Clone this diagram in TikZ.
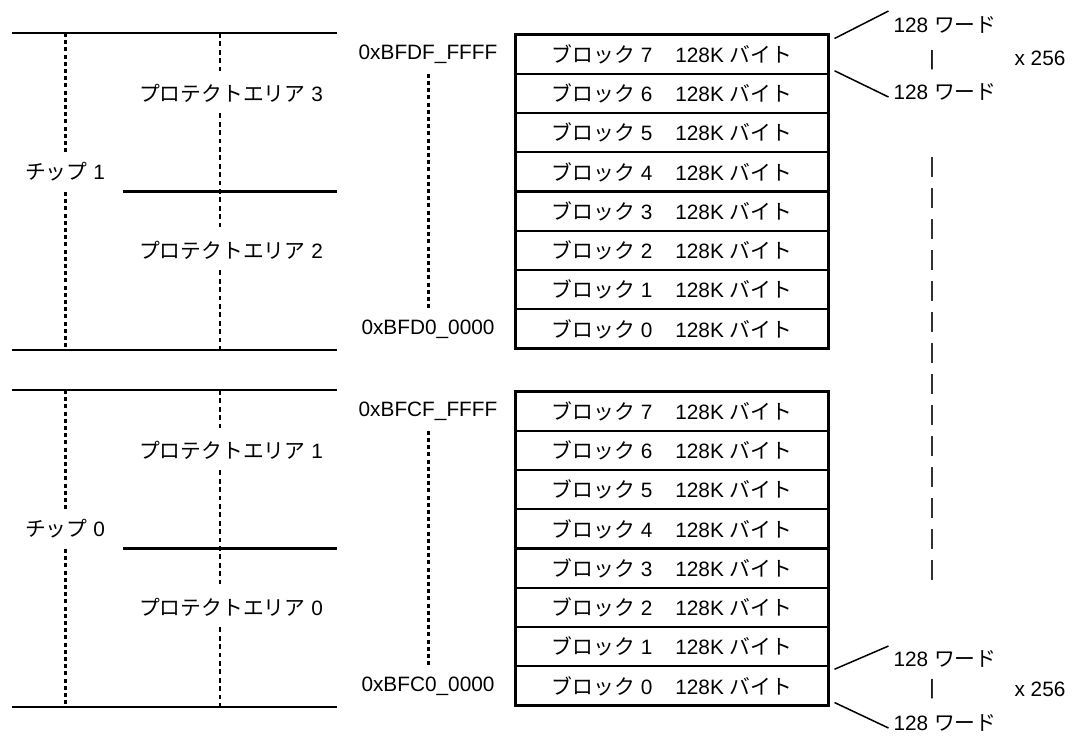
\documentclass[tikz,border=0pt]{standalone}
\usepackage{fontspec}
\setmainfont{Liberation Sans}
\newfontfamily\jp{Noto Sans CJK JP}
\usetikzlibrary{matrix,calc}

\newcommand{\blk}[1]{{\jp ブロック} #1\hspace{1.1em}128K {\jp バイト}}
\newcommand{\wrd}{128 {\jp ワード}}

\tikzset{
	blockcell/.style={draw,line width=1.1pt,minimum width=156.5pt,minimum height=19.625pt,inner sep=0pt,outer sep=0pt},
	rowlabel/.style={minimum height=19.625pt,inner sep=0pt},
	rule/.style={line width=1.2pt},
	thin rule/.style={line width=0.75pt},
	chipdots/.style={line width=1.5pt,dash pattern=on 2pt off 1.6pt},
	areadots/.style={line width=1pt,dash pattern=on 2.4pt off 1.8pt},
	longdash/.style={line width=0.7pt,black!80,dash pattern=on 10pt off 5.5pt}
}

\begin{document}
\begin{tikzpicture}[x=0.5pt,y=-0.5pt,font=\fontsize{10.4pt}{12pt}\selectfont]
\useasboundingbox (0,0) rectangle (1082,736);

\matrix (mU) [matrix of nodes,nodes=blockcell,row sep=-1.1pt,inner sep=0pt,anchor=north west] at (514,33)
{
	\blk{7} \\
	\blk{6} \\
	\blk{5} \\
	\blk{4} \\
	\blk{3} \\
	\blk{2} \\
	\blk{1} \\
	\blk{0} \\
};

\matrix (mL) [matrix of nodes,nodes=blockcell,row sep=-1.1pt,inner sep=0pt,anchor=north west] at ($(mU.south west)+(0,40)$)
{
	\blk{7} \\
	\blk{6} \\
	\blk{5} \\
	\blk{4} \\
	\blk{3} \\
	\blk{2} \\
	\blk{1} \\
	\blk{0} \\
};

\coordinate (xE) at (12,0);
\coordinate (xD) at (123,0);
\coordinate (xR) at (337,0);
\coordinate (xC) at (65,0);
\coordinate (xA) at (220,0);
\coordinate (xM) at (428,0);

% chip 1
\draw[rule] (xE |- mU.north) -- (xR |- mU.north);
\draw[rule] (xD |- mU-5-1.north) -- (xR |- mU-5-1.north);
\draw[rule] (xE |- mU.south) -- (xR |- mU.south);
\node[rowlabel] (chipU) at (xC |- mU-4-1) {{\jp チップ} 1};
\node[rowlabel] (areaU3) at ($(xA |- mU-2-1)+(11,0)$) {{\jp プロテクトエリア} 3};
\node[rowlabel] (areaU2) at ($(xA |- mU-6-1)+(11,0)$) {{\jp プロテクトエリア} 2};
\draw[chipdots] (xC |- mU.north) -- (chipU.north);
\draw[chipdots] (chipU.south) -- (xC |- mU.south);
\draw[areadots] (xA |- mU.north) -- (xA |- areaU3.north);
\draw[areadots] (xA |- areaU3.south) -- (xA |- areaU2.north);
\draw[areadots] (xA |- areaU2.south) -- (xA |- mU.south);
\node (adrU7) at (xM |- mU-1-1) {0xBFDF\_FFFF};
\node (adrU0) at (xM |- mU-8-1) {0xBFD0\_0000};
\draw[chipdots] (xM |- mU-2-1.north) -- (xM |- mU-8-1.north);

% chip 0
\draw[rule] (xE |- mL.north) -- (xR |- mL.north);
\draw[rule] (xD |- mL-5-1.north) -- (xR |- mL-5-1.north);
\draw[rule] (xE |- mL.south) -- (xR |- mL.south);
\node[rowlabel] (chipL) at (xC |- mL-4-1) {{\jp チップ} 0};
\node[rowlabel] (areaL1) at ($(xA |- mL-2-1)+(11,0)$) {{\jp プロテクトエリア} 1};
\node[rowlabel] (areaL0) at ($(xA |- mL-6-1)+(11,0)$) {{\jp プロテクトエリア} 0};
\draw[chipdots] (xC |- mL.north) -- (chipL.north);
\draw[chipdots] (chipL.south) -- (xC |- mL.south);
\draw[areadots] (xA |- mL.north) -- (xA |- areaL1.north);
\draw[areadots] (xA |- areaL1.south) -- (xA |- areaL0.north);
\draw[areadots] (xA |- areaL0.south) -- (xA |- mL.south);
\node (adrL7) at (xM |- mL-1-1) {0xBFCF\_FFFF};
\node (adrL0) at (xM |- mL-8-1) {0xBFC0\_0000};
\draw[chipdots] (xM |- mL-2-1.north) -- (xM |- mL-8-1.north);

% words x 256
\node (wU1) at ($(mU.north east)+(115,-8)$) {\wrd};
\node (barU) at ($(mU.north east)+(102,27)$) {|};
\node (wU2) at ($(mU.north east)+(115,59)$) {\wrd};
\node (nU) at ($(mU.north east)+(210,25)$) {x 256};
\draw[thin rule] ([shift={(6,4)}]mU-1-1.north east) -- ([shift={(2,-14)}]wU1.west);
\draw[thin rule] ([shift={(6,-3)}]mU-1-1.south east) -- ([shift={(2,5)}]wU2.west);

\node (wL1) at ($(mL.south east)+(115,-48)$) {\wrd};
\node (barL) at ($(mL.south east)+(102,-18)$) {|};
\node (wL2) at ($(mL.south east)+(115,16)$) {\wrd};
\node (nL) at ($(mL.south east)+(210,-18)$) {x 256};
\draw[thin rule] ([shift={(6,3)}]mL-8-1.north east) -- ([shift={(2,-13)}]wL1.west);
\draw[thin rule] ([shift={(6,-3)}]mL-8-1.south east) -- ([shift={(2,5)}]wL2.west);

\draw[longdash] ($(barU)+(0,97)$) -- ($(barL)+(0,-100)$);
\end{tikzpicture}
\end{document}
